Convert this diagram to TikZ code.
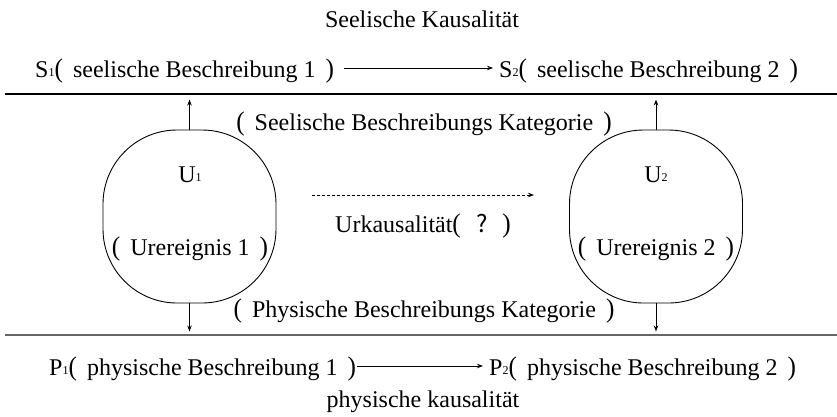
\documentclass[tikz,border=0pt]{standalone}
\usepackage{fontspec}
\setmainfont{Liberation Serif}
\newfontfamily\cjk{Noto Sans CJK SC}
\usetikzlibrary{arrows.meta}
% slightly enlarged parentheses with their surrounding gap
\newcommand\lpar{\scalebox{1.05}[1.12]{(}}
\newcommand\rpar{\scalebox{1.05}[1.12]{)}}
\newcommand\lp{\lpar\hspace{0.42em}}
\newcommand\rp{\hspace{0.42em}\rpar}
\newcommand\qm{\lpar\hspace{0.65em}{\cjk ?}\hspace{0.6em}\rpar}
\newcommand\idx[1]{\raisebox{0.05ex}{\scalebox{0.5}{#1}}}
\begin{document}
\begin{tikzpicture}[x=1pt,y=-1pt,
  every node/.style={font=\fontsize{24}{28}\selectfont, inner sep=0pt},
  lbl/.style={anchor=base},
  lblw/.style={anchor=base west},
  ev/.style={draw, line width=0.9pt, rounded corners=74pt, minimum width=173pt, minimum height=173pt},
  arr/.style={line width=0.8pt, -{Stealth[length=6pt,width=4.5pt]}},
  sep/.style={line width=1.8pt}]
\useasboundingbox (0,0) rectangle (837,416);

% top: seelische Ebene
\node (kS) at (422,27) [lbl] {Seelische Kausalität};
\node (S1) at (35,77) [lblw] {S\idx{1}\lp seelische Beschreibung 1\rp};
\node (S2) at (499,77) [lblw] {S\idx{2}\lp seelische Beschreibung 2\rp};
\draw[arr] ([shift={(10pt,9pt)}]S1.base east) -- ([shift={(-6pt,9pt)}]S2.base west);

% separating lines
\coordinate (tl) at (5,94); \coordinate (tr) at (837,94);
\coordinate (bl) at (5,335); \coordinate (br) at (837,335);
\draw[sep] (tl) -- (tr);
\draw[sep, draw=black!60] (bl) -- (br);

% Ur-Ereignisse
\node[ev] (U1) at (189.5,216.5) {};
\node[ev] (U2) at (656,216.5) {};
\node (u1) at (190,182) [lbl] {U\idx{1}};
\node (u2) at (656,182) [lbl] {U\idx{2}};
\node (e1) at (190,255) [lbl] {\lp Urereignis 1\rp};
\node (e2) at (656,255) [lbl] {\lp Urereignis 2\rp};

\node (kSK) at (424,130) [lbl] {\lp Seelische Beschreibungs Kategorie\rp};
\node (kPK) at (424,317) [lbl] {\lp Physische Beschreibungs Kategorie\rp};

% Urkausalität
\coordinate (d1) at (312,195); \coordinate (d2) at (534,195);
\draw[arr, dash pattern=on 3pt off 2pt] (d1) -- (d2);
\node (uk) at (335,232) [lblw] {Urkausalität\qm};

% vertical arrows
\draw[arr] (U1.north) -- ++(0,-30);
\draw[arr] (U2.north) -- ++(0,-30);
\draw[arr] (U1.south) -- ++(0,28);
\draw[arr] (U2.south) -- ++(0,28);

% bottom: physische Ebene
\node (P1) at (49,375) [lblw] {P\idx{1}\lp physische Beschreibung 1\rp};
\node (P2) at (489,375) [lblw] {P\idx{2}\lp physische Beschreibung 2\rp};
\draw[arr] ([shift={(1pt,9pt)}]P1.base east) -- ([shift={(-6pt,9pt)}]P2.base west);
\node (kP) at (423,407) [lbl] {physische kausalität};
\end{tikzpicture}
\end{document}
